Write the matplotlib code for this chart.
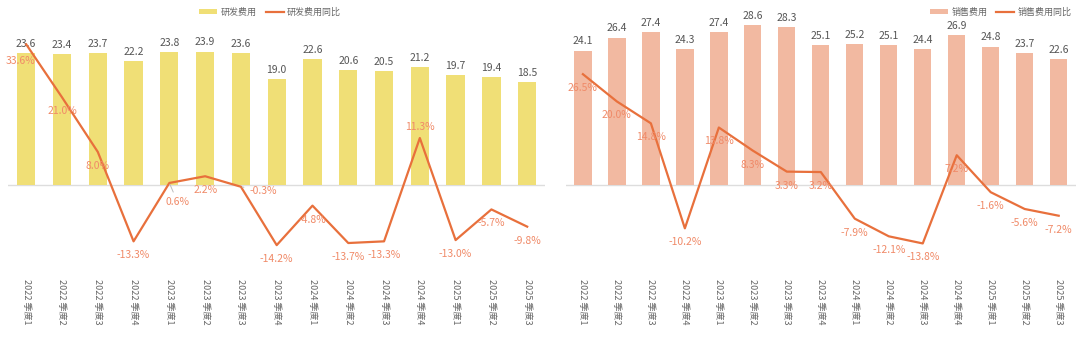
import matplotlib
matplotlib.use("Agg")
import matplotlib.pyplot as plt
from matplotlib.patches import Patch
from matplotlib.lines import Line2D

plt.rcParams['font.family'] = ['Noto Sans CJK SC', 'DejaVu Sans']

quarters = [
    "2022 季度1", "2022 季度2", "2022 季度3", "2022 季度4",
    "2023 季度1", "2023 季度2", "2023 季度3", "2023 季度4",
    "2024 季度1", "2024 季度2", "2024 季度3", "2024 季度4",
    "2025 季度1", "2025 季度2", "2025 季度3",
]

rd_cost = [23.6, 23.4, 23.7, 22.2, 23.8, 23.9, 23.6, 19.0, 22.6, 20.6, 20.5, 21.2, 19.7, 19.4, 18.5]
rd_yoy = [33.6, 21.0, 8.0, -13.3, 0.6, 2.2, -0.3, -14.2, -4.8, -13.7, -13.3, 11.3, -13.0, -5.7, -9.8]

sales_cost = [24.1, 26.4, 27.4, 24.3, 27.4, 28.6, 28.3, 25.1, 25.2, 25.1, 24.4, 26.9, 24.8, 23.7, 22.6]
sales_yoy = [26.5, 20.0, 14.8, -10.2, 13.8, 8.3, 3.3, 3.2, -7.9, -12.1, -13.8, 7.2, -1.6, -5.6, -7.2]

LINE_COLOR = "#e8703c"
LABEL_COLOR = "#f08a68"
TEXT_GRAY = "#666666"

# label offsets (points) for line labels that are moved away from the default "below"
rd_label_moves = {0: (-4, -12), 4: (6, -14), 6: (16, -3), 11: (0, 8)}
rd_leader = {4, 6}


def draw_panel(ax, bars, yoy, bar_color, bar_name, line_name, moves, leaders):
    x = list(range(len(quarters)))
    ax.bar(x, bars, width=0.51, color=bar_color, zorder=2)
    ax.axhline(0, color="#dddddd", lw=1, zorder=1)
    ax.set_xlim(-0.5, len(quarters) - 0.5)
    ax.set_ylim(-15, 30)
    for xi, v in zip(x, bars):
        ax.annotate(f"{v:.1f}", (xi, v), xytext=(0, 3), textcoords="offset points",
                    ha="center", va="bottom", fontsize=7.5, color="#555555")

    ax2 = ax.twinx()
    ax2.set_ylim(-20, 40)
    ax2.plot(x, yoy, color=LINE_COLOR, lw=1.6, zorder=3)
    for i, (xi, v) in enumerate(zip(x, yoy)):
        dx, dy = moves.get(i, (0, -10))
        props = None
        if i in leaders:
            props = dict(arrowstyle="-", color="#bbbbbb", lw=0.7, shrinkA=2, shrinkB=1)
        ax2.annotate(f"{v:.1f}%", (xi, v), xytext=(dx, dy), textcoords="offset points",
                     ha="center", va="center", fontsize=7.5, color=LABEL_COLOR,
                     arrowprops=props)

    for a in (ax, ax2):
        for s in a.spines.values():
            s.set_visible(False)
        a.set_yticks([])
    ax.set_xticks(x)
    ax.set_xticklabels(quarters, rotation=270, fontsize=6.5, color=TEXT_GRAY)
    ax.tick_params(axis="x", length=0, pad=7)

    handles = [
        Patch(facecolor=bar_color, edgecolor="none", label=bar_name),
        Line2D([0], [0], color=LINE_COLOR, lw=1.6, label=line_name),
    ]
    return handles


fig = plt.figure(figsize=(10.8, 3.38), dpi=100)
ax_l = fig.add_axes([0.0077, 0.2027, 0.497, 0.7456])
ax_r = fig.add_axes([0.524, 0.2027, 0.472, 0.7456])

h_l = draw_panel(ax_l, rd_cost, rd_yoy, "#f0df76", "研发费用", "研发费用同比", rd_label_moves, rd_leader)
h_r = draw_panel(ax_r, sales_cost, sales_yoy, "#f2b9a1", "销售费用", "销售费用同比", {}, set())

leg_kw = dict(ncol=2, frameon=False, fontsize=6.5, labelcolor=TEXT_GRAY,
              handlelength=2.0, handleheight=0.55, handletextpad=0.4, columnspacing=1.0,
              borderaxespad=0, borderpad=0)
fig.legend(handles=h_l, loc="center", bbox_to_anchor=(0.25, 0.9645), **leg_kw)
fig.legend(handles=h_r, loc="center right", bbox_to_anchor=(0.9926, 0.9645), **leg_kw)

fig.savefig("out.png", dpi=100)
